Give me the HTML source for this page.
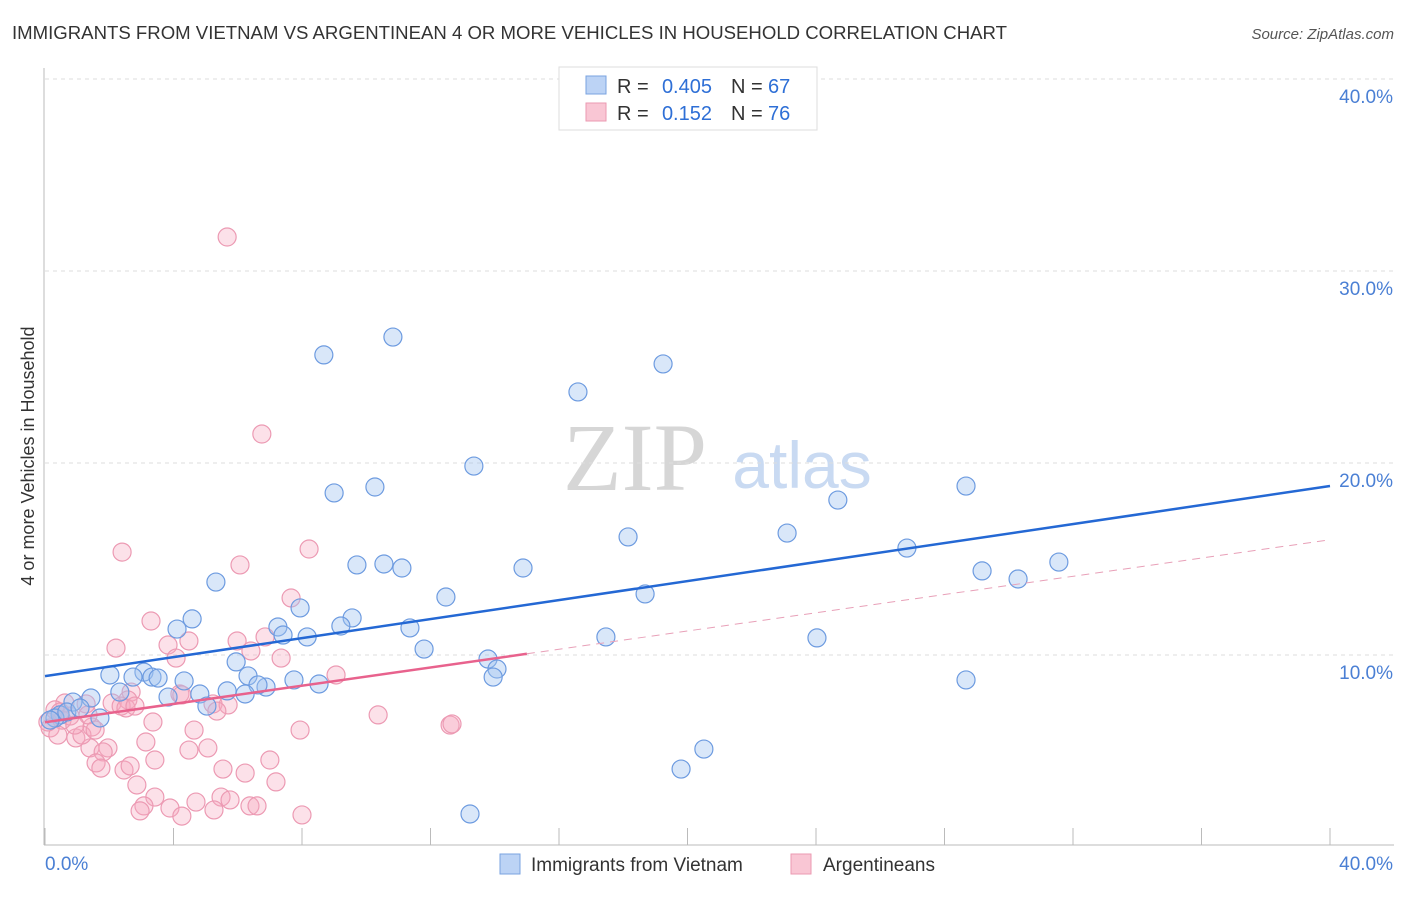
<!DOCTYPE html>
<html><head><meta charset="utf-8"><style>
body{margin:0;background:#fff;font-family:"Liberation Sans",sans-serif}
</style></head><body>
<svg id="c" width="1406" height="892" font-family="Liberation Sans, sans-serif" xmlns="http://www.w3.org/2000/svg">
<text x="12" y="39" font-size="18" fill="#333" textLength="995" lengthAdjust="spacingAndGlyphs">IMMIGRANTS FROM VIETNAM VS ARGENTINEAN 4 OR MORE VEHICLES IN HOUSEHOLD CORRELATION CHART</text>
<text x="1394" y="39" font-size="15" fill="#555" font-style="italic" text-anchor="end">Source: ZipAtlas.com</text>
<text x="635" y="490" font-size="96" fill="#d6d6d6" style="font-family:'Liberation Serif',serif" text-anchor="middle">ZIP</text>
<text x="802" y="488" font-size="66" fill="#c9daf2" text-anchor="middle">atlas</text>
<text transform="translate(34,456) rotate(-90)" font-size="18" fill="#333" text-anchor="middle">4 or more Vehicles in Household</text>
<g id="grid"></g><g id="pts"></g><g id="lines"></g>
<g>
<rect x="559" y="67" width="258" height="63" fill="#fff" stroke="#ddd"/>
<rect x="586" y="76" width="20" height="18" fill="#bcd3f5" stroke="#7aa3e0"/>
<rect x="586" y="103" width="20" height="18" fill="#f9c6d4" stroke="#eb9ab2"/>
<text x="617" y="93" font-size="20" fill="#333">R =</text>
<text x="712" y="93" font-size="20" fill="#2e6fd6" text-anchor="end">0.405</text>
<text x="731" y="93" font-size="20" fill="#333">N =</text>
<text x="768" y="93" font-size="20" fill="#2e6fd6">67</text>
<text x="617" y="120" font-size="20" fill="#333">R =</text>
<text x="712" y="120" font-size="20" fill="#2e6fd6" text-anchor="end">0.152</text>
<text x="731" y="120" font-size="20" fill="#333">N =</text>
<text x="768" y="120" font-size="20" fill="#2e6fd6">76</text>
</g>
<g>
<rect x="500" y="854" width="20" height="20" fill="#bcd3f5" stroke="#7aa3e0"/>
<text x="531" y="871" font-size="19" fill="#333">Immigrants from Vietnam</text>
<rect x="791" y="854" width="20" height="20" fill="#f9c6d4" stroke="#eb9ab2"/>
<text x="823" y="871" font-size="19" fill="#333">Argentineans</text>
</g>
</svg>
<script>
const blueX=[],blueY=[],pinkX=[],pinkY=[];
const bluePx=[[393,337],[324,355],[663,364],[578,392],[474,466],[375,487],[334,493],[966,486],[838,500],[787,533],[628,537],[907,548],[357,565],[384,564],[402,568],[523,568],[982,571],[1059,562],[1018,579],[216,582],[645,594],[446,597],[300,608],[352,618],[192,619],[177,629],[278,627],[341,626],[410,628],[606,637],[283,635],[307,637],[817,638],[424,649],[236,662],[488,659],[144,672],[110,675],[152,677],[133,677],[158,678],[497,669],[493,677],[184,681],[294,680],[319,684],[248,676],[266,687],[258,685],[227,691],[200,694],[966,680],[168,697],[245,694],[207,706],[120,692],[91,698],[73,702],[100,718],[60,715],[55,718],[50,720],[704,749],[681,769],[470,814],[67,712],[80,708]];
const pinkPx=[[227,237],[262,434],[122,552],[309,549],[240,565],[291,598],[151,621],[116,648],[189,641],[168,645],[237,641],[265,637],[176,658],[251,651],[281,658],[336,675],[180,694],[213,704],[182,695],[131,692],[128,700],[112,703],[121,706],[126,708],[135,706],[228,705],[217,711],[153,722],[86,704],[65,703],[55,710],[50,728],[92,727],[76,738],[90,748],[108,748],[103,752],[194,730],[300,730],[378,715],[450,725],[452,724],[146,742],[189,750],[208,748],[96,763],[101,768],[124,770],[130,766],[223,769],[245,773],[276,782],[137,785],[155,797],[144,806],[196,802],[170,808],[221,797],[250,806],[257,806],[140,811],[182,816],[214,810],[302,815],[62,720],[70,716],[58,735],[48,722],[88,715],[82,735],[155,760],[230,800],[270,760],[60,712],[75,725],[95,730]];
bluePx.forEach(p=>{blueX.push(+((p[0]-45)/1285*40).toFixed(2));blueY.push(+((847-p[1])/19.2).toFixed(2));});
pinkPx.forEach(p=>{pinkX.push(+((p[0]-45)/1285*40).toFixed(2));pinkY.push(+((847-p[1])/19.2).toFixed(2));});
const blueTrend=[8.9,18.8];
const pinkTrend=[6.5,16.0];
const pinkSolidEnd=15.0;
const yTicks=[10,20,30,40];
const yTickLabels=["10.0%","20.0%","30.0%","40.0%"];
const xTicks=[0,4,8,12,16,20,24,28,32,36,40];

const NS="http://www.w3.org/2000/svg";
const sx=v=>45+v/40*1285, sy=v=>847-v*19.2;
function mk(tag,at,parent){const e=document.createElementNS(NS,tag);for(const k in at)e.setAttribute(k,at[k]);document.getElementById(parent).appendChild(e);return e;}
let e;
e=mk('line',{x1:44,y1:68,x2:44,y2:845,stroke:'#bbb'},'grid');


e=mk('line',{x1:44,y1:845,x2:1394,y2:845,stroke:'#bbb'},'grid');


yTicks.forEach((t,i)=>{
 e=mk('line',{x1:45,x2:1394,y1:sy(t),y2:sy(t),stroke:'#ddd','stroke-dasharray':'4,4'},'grid');
 
 
 e=mk('text',{x:1393,y:sy(t)+24,'font-size':19,fill:'#4a7fd4','text-anchor':'end'},'grid');e.textContent=yTickLabels[i];
 
 
});
xTicks.forEach(t=>{
 e=mk('line',{x1:sx(t),x2:sx(t),y1:828,y2:845,stroke:'#bbb'},'grid');
 
 
});
e=mk('text',{x:45,y:870,'font-size':19,fill:'#4a7fd4'},'grid');e.textContent='0.0%';


e=mk('text',{x:1393,y:870,'font-size':19,fill:'#4a7fd4','text-anchor':'end'},'grid');e.textContent='40.0%';


pinkX.forEach((x,i)=>{
 e=mk('circle',{cx:sx(x),cy:sy(pinkY[i]),r:9,fill:'rgba(246,170,192,0.35)',stroke:'#ec9ab3','stroke-width':1.2},'pts');
 
 
});
blueX.forEach((x,i)=>{
 e=mk('circle',{cx:sx(x),cy:sy(blueY[i]),r:9,fill:'rgba(160,195,240,0.4)',stroke:'#6d9be0','stroke-width':1.2},'pts');
 
 
});
const bAt=x=>blueTrend[0]+(blueTrend[1]-blueTrend[0])*x/40;
const pAt=x=>pinkTrend[0]+(pinkTrend[1]-pinkTrend[0])*x/40;
e=mk('line',{x1:sx(0),y1:sy(bAt(0)),x2:sx(40),y2:sy(bAt(40)),stroke:'#2468d4','stroke-width':2.5},'lines');


e=mk('line',{x1:sx(0),y1:sy(pAt(0)),x2:sx(pinkSolidEnd),y2:sy(pAt(pinkSolidEnd)),stroke:'#e8628d','stroke-width':2.5},'lines');


e=mk('line',{x1:sx(pinkSolidEnd),y1:sy(pAt(pinkSolidEnd)),x2:sx(39.85),y2:sy(pAt(39.85)),stroke:'#e8a0b8','stroke-width':1,'stroke-dasharray':'8,6'},'lines');


</script>
</body></html>
